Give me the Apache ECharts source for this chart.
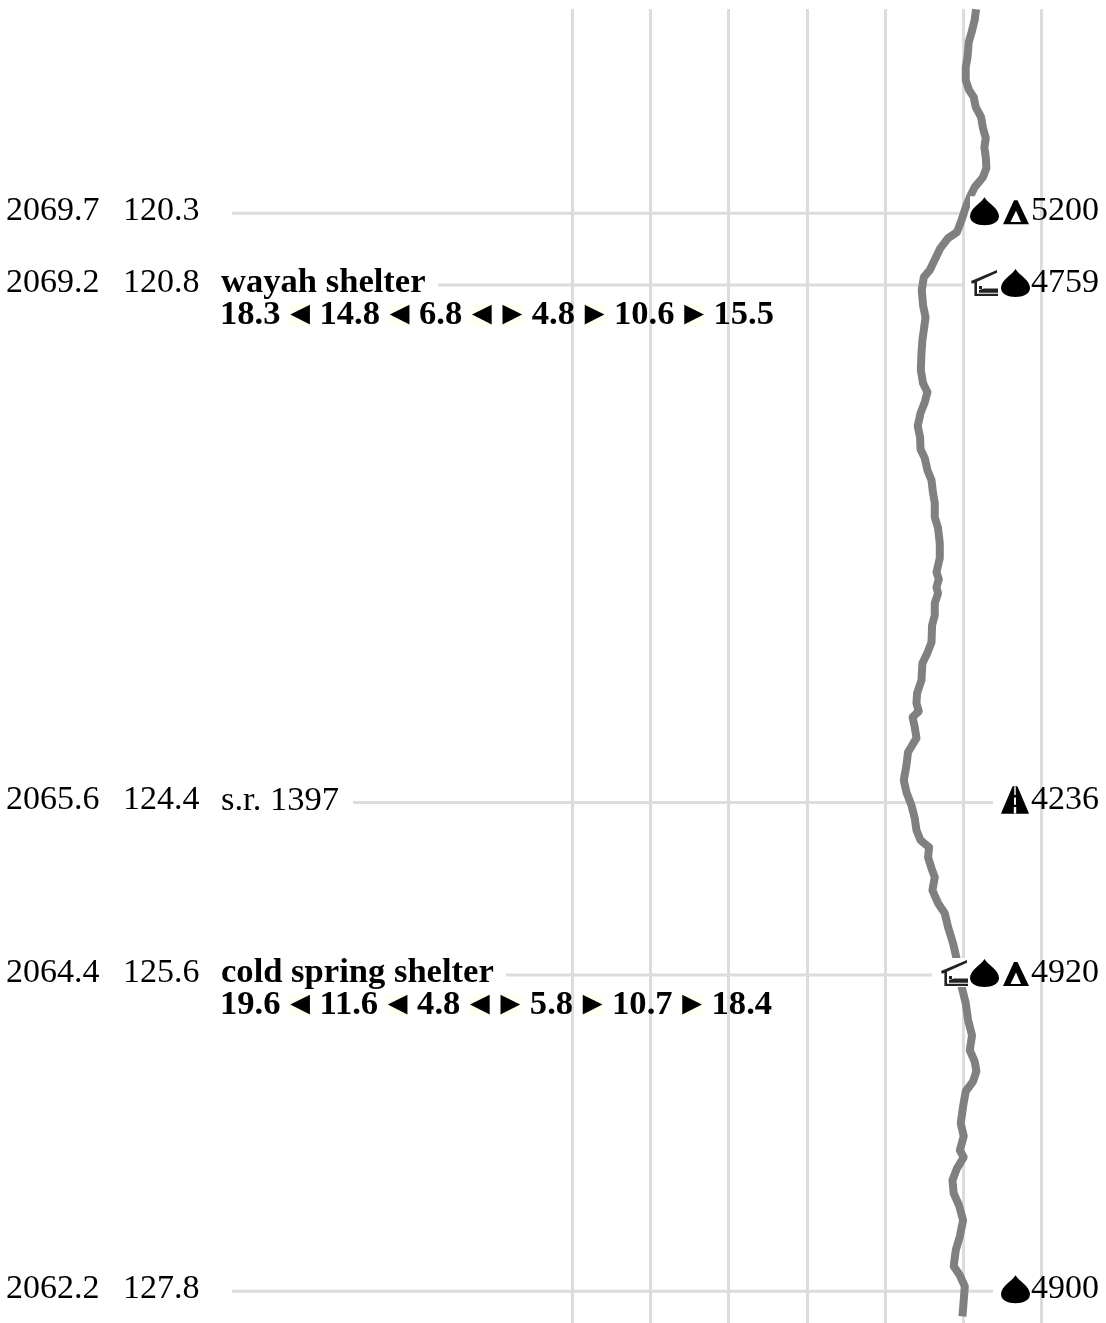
<!DOCTYPE html>
<html><head><meta charset="utf-8">
<style>html,body{margin:0;padding:0;background:#fff}#c{width:1106px;height:1323px}</style>
<script src="https://cdn.jsdelivr.net/npm/echarts@6/dist/echarts.min.js"></script>
</head><body><div id="c"></div>
<script>
// Elevation profile, mile (from start) and elevation in feet
const profileMiles=[118.881,118.957,119.048,119.110,119.215,119.284,119.375,119.444,119.493,119.563,119.632,119.709,119.778,119.841,119.910,119.987,120.050,120.119,120.189,120.265,120.349,120.432,120.474,120.543,120.648,120.697,120.745,120.836,120.940,121.024,121.065,121.184,121.274,121.392,121.483,121.545,121.615,121.691,121.782,121.858,121.942,122.004,122.088,122.157,122.248,122.318,122.415,122.491,122.596,122.700,122.798,122.846,122.902,122.944,123.013,123.097,123.166,123.285,123.354,123.431,123.549,123.639,123.709,123.765,123.806,123.876,123.952,124.050,124.140,124.245,124.328,124.419,124.509,124.592,124.662,124.711,124.780,124.857,124.919,125.010,125.100,125.170,125.267,125.379,125.483,125.678,125.796,125.914,126.019,126.123,126.200,126.269,126.339,126.408,126.513,126.631,126.721,126.819,126.867,126.944,127.027,127.118,127.201,127.306,127.417,127.514,127.626,127.688,127.765,127.862,127.974];
const profileElev=[5082,5073,5052,5035,5027,5016,5016,5037,5067,5080,5114,5126,5144,5135,5144,5148,5126,5073,5042,5014,4989,4960,4903,4854,4807,4786,4748,4735,4743,4759,4754,4739,4733,4729,4743,4771,4754,4727,4709,4724,4727,4754,4771,4797,4807,4818,4818,4839,4850,4850,4829,4844,4829,4839,4818,4818,4801,4797,4773,4739,4733,4705,4701,4716,4676,4690,4701,4647,4637,4620,4637,4669,4690,4701,4727,4782,4775,4797,4818,4803,4839,4882,4903,4935,4957,4989,5016,5031,5056,5042,5073,5084,5063,5016,4999,4984,5003,4978,5003,4960,4931,4939,4973,4999,4978,4952,4939,4978,5010,5003,4995];

// Waypoints
const wpNobo=['2069.7','2069.2','2065.6','2064.4','2062.2'];
const wpSobo=['120.3','120.8','124.4','125.6','127.8'];
const wpMiles=[120.3,120.8,124.4,125.6,127.8];
const wpNames=['','wayah shelter','s.r. 1397','cold spring shelter',''];
const wpBold=[false,true,false,true,false];
const wpElev=['5200','4759','4236','4920','4900'];
const wpBack=[null,['18.3','14.8','6.8'],null,['19.6','11.6','4.8'],null];
const wpAhead=[null,['4.8','10.6','15.5'],null,['5.8','10.7','18.4'],null];
const wpIcons=[['drop','tent'],['shelter','drop'],['road'],['shelter','drop','tent'],['drop']];

// Layout (overlay axis runs in page columns), kept apart from the data
const leaderSpan=[[232,963],[438,962],[353,993],[506,932],[232,993]];
const slotX=[1001,970,940];
const colNobo=6,colSobo=123,colName=221,colElev=1031;
const FONT='"Liberation Serif","Times New Roman",serif';
const TEXT_DY=-2, LINE2_DY=32;

const iconDefs={
  drop:{w:29,h:28,dx:0,dy:-16,parts:[['#000','M14.5 0C11 6 0 11 0 19C0 25 7 28 14.5 28C22 28 29 25 29 19C29 11 18 6 14.5 0Z']]},
  tent:{w:26,h:24,dx:2,dy:-13,parts:[['#000','M11 0L14.5 0L26 24L0 24ZM13 10.5L7.5 21.8L18 21.8Z']]},
  shelter:{w:27,h:26,dx:1,dy:-15,parts:[['#222','M0 11L26 0V2.6L6 11.6V23.6H27V26H3.4V13L0.8 13.6ZM8 16H11V19H8ZM8 20L13 18.5H27V22.6H8Z']]},
  road:{w:28,h:27,dx:0,dy:-16,parts:[
    ['#000','M11.5 0H16.5L28 27H0ZM12.3 1L1.5 26H26.5L15.7 1Z'],
    ['#000','M12.4 2.4H15.6L25.4 25.4H2.6Z'],
    ['#fff','M13.4 3H14.6V10H13.4ZM13.2 12H14.8V18H13.2ZM13 20H15V25.4H13Z']]}
};

function distanceText(i){
  const s='{s| }';
  const back=wpBack[i].map(v=>'{n|'+v+'}'+s+'{l|◄}'+s).join('');
  const ahead=wpAhead[i].map(v=>'{r|►}'+s+'{n|'+v+'}').join(s);
  return back+ahead;
}
const tri={fontFamily:FONT,fontSize:33,fontWeight:'normal',fill:'#000',backgroundColor:'#fffff2',width:22,height:22,align:'center',lineHeight:22};
const richStyles={
  n:{fontFamily:FONT,fontSize:34.6,fontWeight:'bold',fill:'#000'},
  s:{fontFamily:FONT,fontSize:34,width:8.5,fill:'#000'},
  l:tri,r:tri
};

function txt(p,x,text,bold,size){
  return {type:'text',x:x,y:p[1]+TEXT_DY,style:{text:text,fontFamily:FONT,fontSize:size||34,fontWeight:bold?'bold':'normal',fill:'#000',verticalAlign:'middle',align:'left'}};
}

const option={
  animation:false,
  backgroundColor:'#fff',
  grid:[
    {left:572,width:469.5,top:9,height:1314},
    {left:0,width:1106,top:9,height:1314}
  ],
  xAxis:[
    {gridIndex:0,type:'value',min:2500,max:5500,interval:500,axisLabel:{show:false},axisLine:{show:false},axisTick:{show:false},
     splitLine:{show:true,lineStyle:{color:'#dcdcdc',width:3}}},
    {gridIndex:1,type:'value',min:0,max:1106,show:false}
  ],
  yAxis:[
    {gridIndex:0,type:'value',inverse:true,min:118.88,max:128.02,show:false},
    {gridIndex:1,type:'value',inverse:true,min:118.88,max:128.02,show:false}
  ],
  series:[
    ...wpMiles.map((m,i)=>({type:'line',xAxisIndex:1,yAxisIndex:1,z:2,silent:true,symbol:'none',
      data:[[leaderSpan[i][0],m],[leaderSpan[i][1],m]],lineStyle:{color:'#dcdcdc',width:3}})),
    {type:'line',xAxisIndex:0,yAxisIndex:0,z:3,silent:true,symbol:'none',smooth:false,
      data:profileMiles.map((m,i)=>[profileElev[i],m]),
      lineStyle:{color:'#808080',width:8,join:'round',cap:'butt'}},
    {type:'custom',xAxisIndex:1,yAxisIndex:1,z:4,silent:true,
      data:wpMiles.map((m,i)=>[0,m,i]),
      encode:{x:0,y:1},
      renderItem:(params,api)=>{
        const i=api.value(2), p=api.coord([0,api.value(1)]), icons=wpIcons[i], children=[];
        const left=slotX[icons.length-1];
        children.push({type:'rect',shape:{x:left,y:p[1]-17,width:1030-left,height:29},style:{fill:'#fff'}});
        icons.forEach((name,k)=>{
          const def=iconDefs[name], sx=slotX[icons.length-1-k];
          def.parts.forEach(part=>{
            children.push({type:'path',shape:{pathData:part[1],x:sx+def.dx,y:p[1]+def.dy,width:def.w,height:def.h},style:{fill:part[0]}});
          });
        });
        return {type:'group',children};
      }},
    {type:'custom',xAxisIndex:1,yAxisIndex:1,z:5,silent:true,
      data:wpMiles.map((m,i)=>[0,m,i]),
      encode:{x:0,y:1},
      renderItem:(params,api)=>{
        const i=api.value(2), p=api.coord([0,api.value(1)]), children=[
          txt(p,colNobo,wpNobo[i],false),
          txt(p,colSobo,wpSobo[i],false),
          txt(p,colElev,wpElev[i],false)
        ];
        if(wpNames[i]) children.push(txt(p,colName,wpNames[i],wpBold[i],34.6));
        if(wpBack[i]){
          children.push({type:'text',x:colName-1,y:p[1]+TEXT_DY+LINE2_DY,style:{text:distanceText(i),rich:richStyles,fontFamily:FONT,fontSize:34,fontWeight:'bold',fill:'#000',verticalAlign:'middle',align:'left'}});
        }
        return {type:'group',children};
      }}
  ]
};
echarts.init(document.getElementById('c'),null,{renderer:'canvas'}).setOption(option);
</script></body></html>
